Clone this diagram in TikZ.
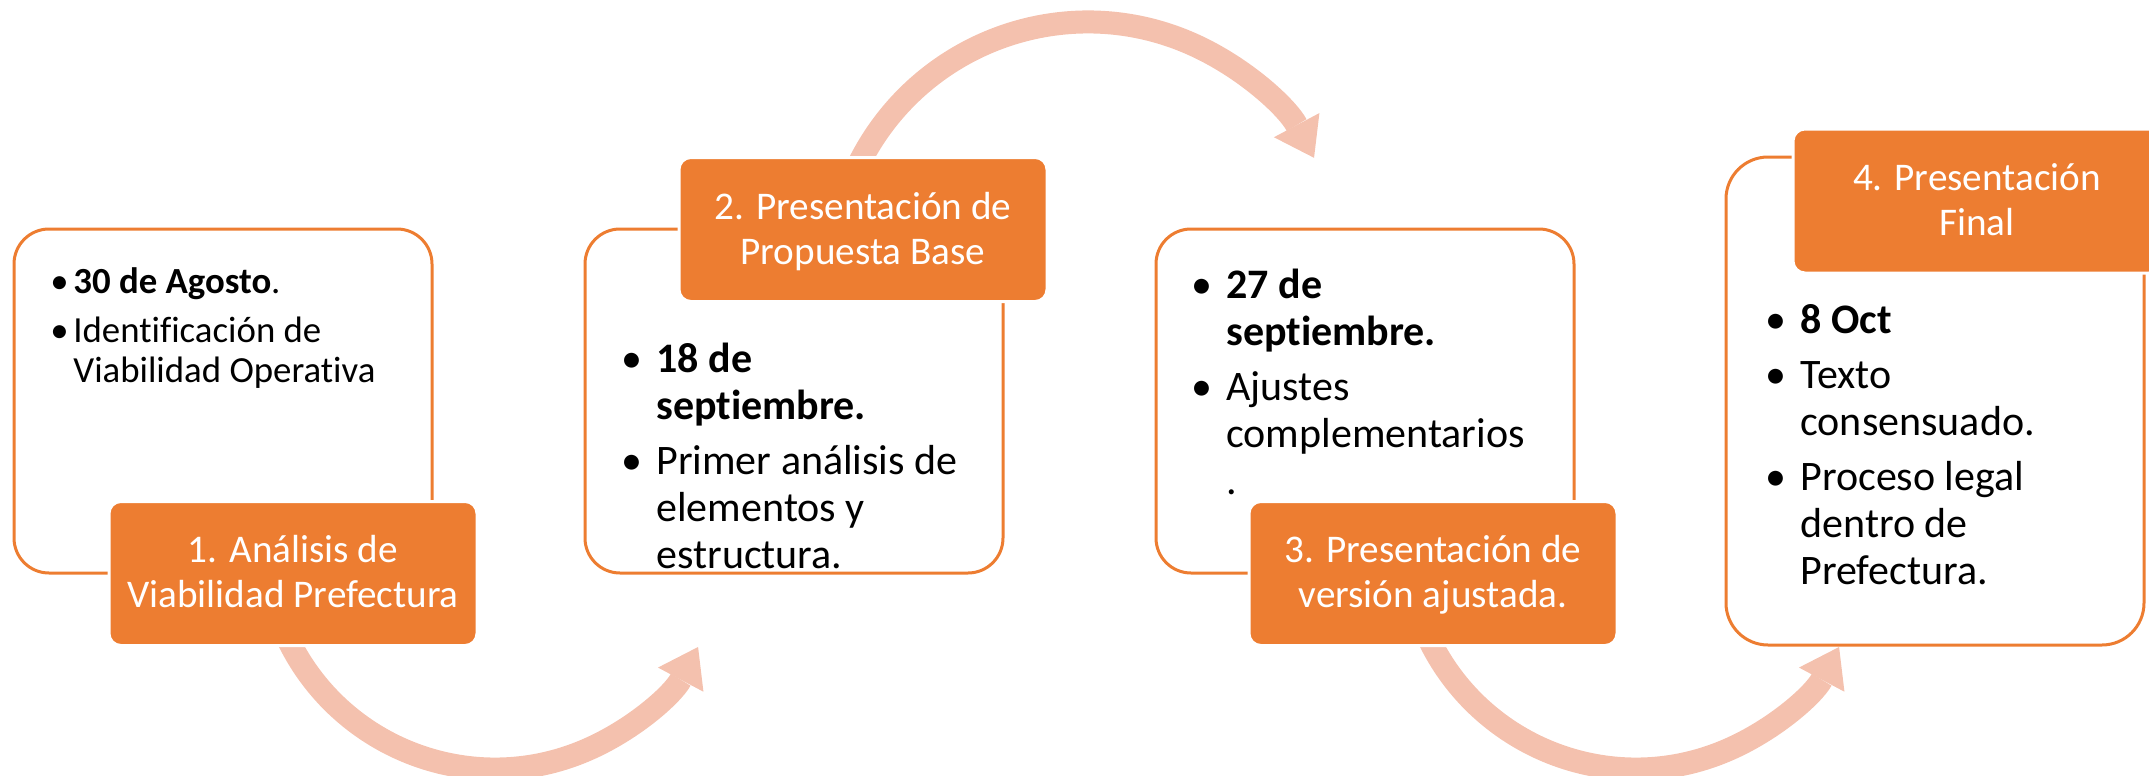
\documentclass[tikz,border=0pt]{standalone}
\usepackage{fontspec}
\setmainfont[Ligatures=NoCommon]{Carlito}
\usetikzlibrary{arrows.meta}
\definecolor{orng}{HTML}{ED7D31}
\definecolor{arrc}{HTML}{F4C1AE}
\newlength{\bulw}
\newcommand{\bitem}[1]{\hangindent=\bulw\hangafter=1\noindent\makebox[\bulw][l]{•}#1\par}
\newcommand{\oxfont}{\fontsize{19.6}{22.5}\selectfont}
\newcommand{\bxfont}{\fontsize{21}{23.5}\selectfont\setlength{\parskip}{4pt}\setlength{\bulw}{17.5pt}}
\begin{document}
\begin{tikzpicture}[x=0.5pt,y=-0.5pt,
  wbox/.style={draw=orng, line width=1.5pt, fill=white, rounded corners=17.5pt, minimum width=209pt, minimum height=172pt, inner sep=0pt},
  obox/.style={draw=white, line width=1.5pt, fill=orng, rounded corners=6pt, minimum width=184pt, minimum height=72pt, inner sep=0pt},
  flow/.style={draw=arrc, line width=11.5pt, -{Triangle[width=25.75pt,length=18.5pt,line width=0pt]}},
  otext/.style={anchor=base, inner sep=0pt, text=white},
  btext/.style={anchor=base west, inner sep=0pt, text=black}]
\useasboundingbox (0,0) rectangle (2149,776);
% arc centres
\coordinate (c1) at (495,539);
\coordinate (c2) at (1088,278);
\coordinate (c3) at (1636,539);
% arrows (behind boxes)
\draw[flow] ([shift={(-158:115pt)}]c1) arc[start angle=-158, end angle=-28, radius=115pt];
\draw[flow] ([shift={(156:128pt)}]c2) arc[start angle=156, end angle=28, radius=128pt];
\draw[flow] ([shift={(-158:115pt)}]c3) arc[start angle=-158, end angle=-28, radius=115pt];
% white boxes
\node[wbox] (w1) at (223,401) {};
\node[wbox] (w2) at (794,401) {};
\node[wbox] (w3) at (1365,401) {};
\node[wbox, minimum height=244pt, rounded corners=21pt] (w4) at (1935,401) {};
% orange boxes
\node[obox] (o1) at (293,573.5) {};
\node[obox] (o2) at (863,229.5) {};
\node[obox] (o3) at (1433,573.5) {};
\node[obox] (o4) at (1977,201) {};
% orange texts
\node[otext] (t1) at (293,562) {\begin{minipage}[t]{250pt}\centering\oxfont 1. Análisis de\\Viabilidad Prefectura\end{minipage}};
\node[otext] (t2) at (863,219) {\begin{minipage}[t]{250pt}\centering\oxfont 2. Presentación de\\Propuesta Base\end{minipage}};
\node[otext] (t3) at (1433,562) {\begin{minipage}[t]{250pt}\centering\oxfont 3. Presentación de\\versión ajustada.\end{minipage}};
\node[otext] (t4) at (1977,190) {\begin{minipage}[t]{250pt}\centering\oxfont 4. Presentación\\Final\end{minipage}};
% box texts
\node[btext] (b1) at (50,293) {\begin{minipage}[t]{300pt}\fontsize{18.4}{20}\selectfont\setlength{\parskip}{4.5pt}\setlength{\bulw}{11.5pt}%
\bitem{\textbf{30 de Agosto}.}%
\bitem{Identificación de\\Viabilidad Operativa}\end{minipage}};
\node[btext] (b2) at (621,372) {\begin{minipage}[t]{300pt}\bxfont
\bitem{\textbf{18 de\\septiembre.}}%
\bitem{Primer análisis de\\elementos y\\estructura.}\end{minipage}};
\node[btext] (b3) at (1191,298) {\begin{minipage}[t]{300pt}\bxfont
\bitem{\textbf{27 de\\septiembre.}}%
\bitem{Ajustes\\complementarios\\.}\end{minipage}};
\node[btext] (b4) at (1765,333) {\begin{minipage}[t]{300pt}\bxfont
\bitem{\textbf{8 Oct}}%
\bitem{Texto\\consensuado.}%
\bitem{Proceso legal\\dentro de\\Prefectura.}\end{minipage}};
\end{tikzpicture}
\end{document}
